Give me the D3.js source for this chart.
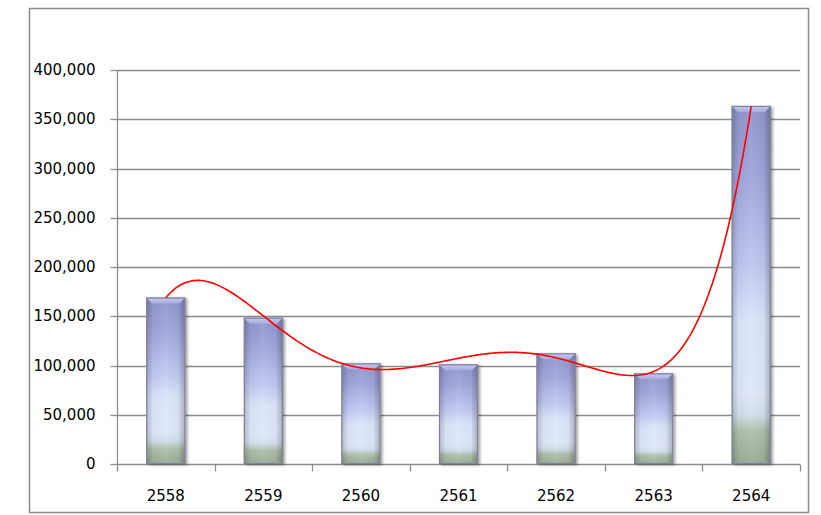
<!DOCTYPE html>
<html><head><meta charset="utf-8">
<script src="https://cdn.jsdelivr.net/npm/d3@7/dist/d3.min.js"></script>
<style>
html,body{margin:0;padding:0;background:#fff;}
svg{display:block;font-family:"DejaVu Sans",Verdana,sans-serif;}
</style></head>
<body>
<svg id="chart" width="821" height="515"></svg>
<script>
const categories = ["2558","2559","2560","2561","2562","2563","2564"];
const values = [169000, 148500, 102200, 101200, 112400, 92100, 363500];
const yTicks = [0,50000,100000,150000,200000,250000,300000,350000,400000];
const trendDegree = 5;

const svg = d3.select("#chart");
const defs = svg.append("defs");

const vg = defs.append("linearGradient").attr("id","vgrad").attr("x1",0).attr("y1",0).attr("x2",0).attr("y2",1);
[[0,"#9094cc"],[0.2,"#a0a6db"],[0.45,"#c0c8f2"],[0.6,"#dce5fb"],[0.8,"#dfe8fb"],[0.86,"#d4dfec"],[0.91,"#b0c0ac"],[1,"#9aab97"]]
  .forEach(([o,c])=>vg.append("stop").attr("offset",o).attr("stop-color",c));
const hg = defs.append("linearGradient").attr("id","hgrad").attr("x1",0).attr("y1",0).attr("x2",1).attr("y2",0);
[[0,"#000",0.16],[0.12,"#000",0.03],[0.5,"#fff",0.06],[0.88,"#000",0.03],[1,"#000",0.18]]
  .forEach(([o,c,a])=>hg.append("stop").attr("offset",o).attr("stop-color",c).attr("stop-opacity",a));
const bg = defs.append("linearGradient").attr("id","bevgrad").attr("x1",0).attr("y1",0).attr("x2",0).attr("y2",1);
[[0,"#c6caf0"],[1,"#a7acde"]].forEach(([o,c])=>bg.append("stop").attr("offset",o).attr("stop-color",c));
const f = defs.append("filter").attr("id","shadow").attr("x","-30%").attr("y","-10%").attr("width","160%").attr("height","130%");
f.append("feGaussianBlur").attr("in","SourceAlpha").attr("stdDeviation",1.5).attr("result","b");
f.append("feOffset").attr("in","b").attr("dx",1.5).attr("dy",1).attr("result","o");
f.append("feComponentTransfer").attr("in","o").attr("result","s").append("feFuncA").attr("type","linear").attr("slope",0.4);
const fm = f.append("feMerge"); fm.append("feMergeNode").attr("in","s"); fm.append("feMergeNode").attr("in","SourceGraphic");

// outer border
svg.append("rect").attr("x",29.5).attr("y",8.5).attr("width",779).attr("height",504)
  .attr("fill","none").attr("stroke","#8a8a8a").attr("stroke-width",1.5);

const x = d3.scaleBand().domain(categories).range([117,800]).paddingInner(0).paddingOuter(0);
const y = d3.scaleLinear().domain([0,400000]).range([464,70]);

// gridlines
svg.append("g").selectAll("line").data(yTicks.filter(d=>d>0)).join("line")
  .attr("x1",117).attr("x2",800).attr("y1",d=>Math.round(y(d))+0.5).attr("y2",d=>Math.round(y(d))+0.5)
  .attr("stroke","#8c8c8c").attr("stroke-width",1.3);

// y axis
const yAxis = svg.append("g").attr("transform","translate(117.5,0)")
  .call(d3.axisLeft(y).tickValues(yTicks).tickSize(7).tickPadding(15).tickFormat(d3.format(",")));
yAxis.select(".domain").attr("stroke","#8c8c8c").attr("stroke-width",1.3).attr("d","M0,"+y(400000)+"V"+y(0));
yAxis.selectAll(".tick line").attr("stroke","#8c8c8c").attr("stroke-width",1.3);
yAxis.selectAll(".tick").attr("transform",d=>"translate(0,"+(Math.round(y(d))+0.5)+")");
yAxis.selectAll("text").attr("font-size",15).attr("fill","#000").attr("font-family","DejaVu Sans");

// x axis
const xAxis = svg.append("g").attr("transform","translate(0,"+(Math.round(y(0))+0.5)+")");
xAxis.append("line").attr("x1",117).attr("x2",800).attr("stroke","#8c8c8c").attr("stroke-width",1.3);
const bounds = categories.map((c,i)=>x(c)).concat([800]);
xAxis.selectAll("line.tk").data(bounds).join("line").attr("class","tk")
  .attr("x1",d=>Math.round(d)+0.5).attr("x2",d=>Math.round(d)+0.5).attr("y1",0).attr("y2",7)
  .attr("stroke","#8c8c8c").attr("stroke-width",1.3);
xAxis.selectAll("text").data(categories).join("text")
  .attr("x",d=>x(d)+x.bandwidth()/2).attr("y",36).attr("text-anchor","middle")
  .attr("font-size",15).attr("fill","#000").text(d=>d);

// bars
const bw = x.bandwidth()/2.5;
const bars = svg.append("g").selectAll("g").data(categories.map((c,i)=>({c,v:values[i]}))).join("g");
bars.each(function(d){
  const g = d3.select(this);
  const x0 = x(d.c)+x.bandwidth()/2-bw/2, x1 = x0+bw, top = y(d.v), bot = y(0);
  const h = bot-top, bev = 6;
  g.append("rect").attr("x",x0).attr("y",top).attr("width",bw).attr("height",h)
    .attr("fill","url(#vgrad)").attr("filter","url(#shadow)");
  g.append("rect").attr("x",x0).attr("y",top).attr("width",bw).attr("height",h).attr("fill","url(#hgrad)");
  g.append("path").attr("d",`M${x0},${top}H${x1}L${x1-bev},${top+bev}H${x0+bev}Z`).attr("fill","url(#bevgrad)");
  g.append("path").attr("d",`M${x0},${top}L${x0+bev},${top+bev}V${bot-3}L${x0},${bot}Z`).attr("fill","#000").attr("opacity",0.05);
  g.append("path").attr("d",`M${x1},${top}L${x1-bev},${top+bev}V${bot-3}L${x1},${bot}Z`).attr("fill","#000").attr("opacity",0.08);
  g.append("rect").attr("x",x0+0.5).attr("y",top+0.5).attr("width",bw-1).attr("height",h-1)
    .attr("fill","none").attr("stroke","#7f8399").attr("stroke-width",1.2);
});

// polynomial trendline (least squares fit of the values, x = 1..n)
function polyfit(xs, ys, deg){
  const n = deg+1;
  const A = Array.from({length:n},()=>new Array(n+1).fill(0));
  for(let r=0;r<n;r++){
    for(let c=0;c<n;c++) A[r][c] = d3.sum(xs,xv=>Math.pow(xv,r+c));
    A[r][n] = d3.sum(xs,(xv,i)=>ys[i]*Math.pow(xv,r));
  }
  for(let i=0;i<n;i++){
    let p=i; for(let k=i+1;k<n;k++) if(Math.abs(A[k][i])>Math.abs(A[p][i])) p=k;
    [A[i],A[p]]=[A[p],A[i]];
    for(let k=i+1;k<n;k++){ const fct=A[k][i]/A[i][i]; for(let j=i;j<=n;j++) A[k][j]-=fct*A[i][j]; }
  }
  const co = new Array(n).fill(0);
  for(let i=n-1;i>=0;i--){ let s=A[i][n]; for(let j=i+1;j<n;j++) s-=A[i][j]*co[j]; co[i]=s/A[i][i]; }
  return t=>co.reduce((a,cv,k)=>a+cv*Math.pow(t,k),0);
}
const xs = categories.map((c,i)=>i+1);
const p = polyfit(xs, values, trendDegree);
const cx0 = x(categories[0])+x.bandwidth()/2;
const samples = d3.range(1, categories.length+0.001, 0.02);
svg.append("path").datum(samples)
  .attr("d", d3.line().x(t=>cx0+(t-1)*x.bandwidth()).y(t=>y(p(t))).curve(d3.curveLinear))
  .attr("fill","none").attr("stroke","#ff0000").attr("stroke-width",1.6);
</script>
</body></html>
